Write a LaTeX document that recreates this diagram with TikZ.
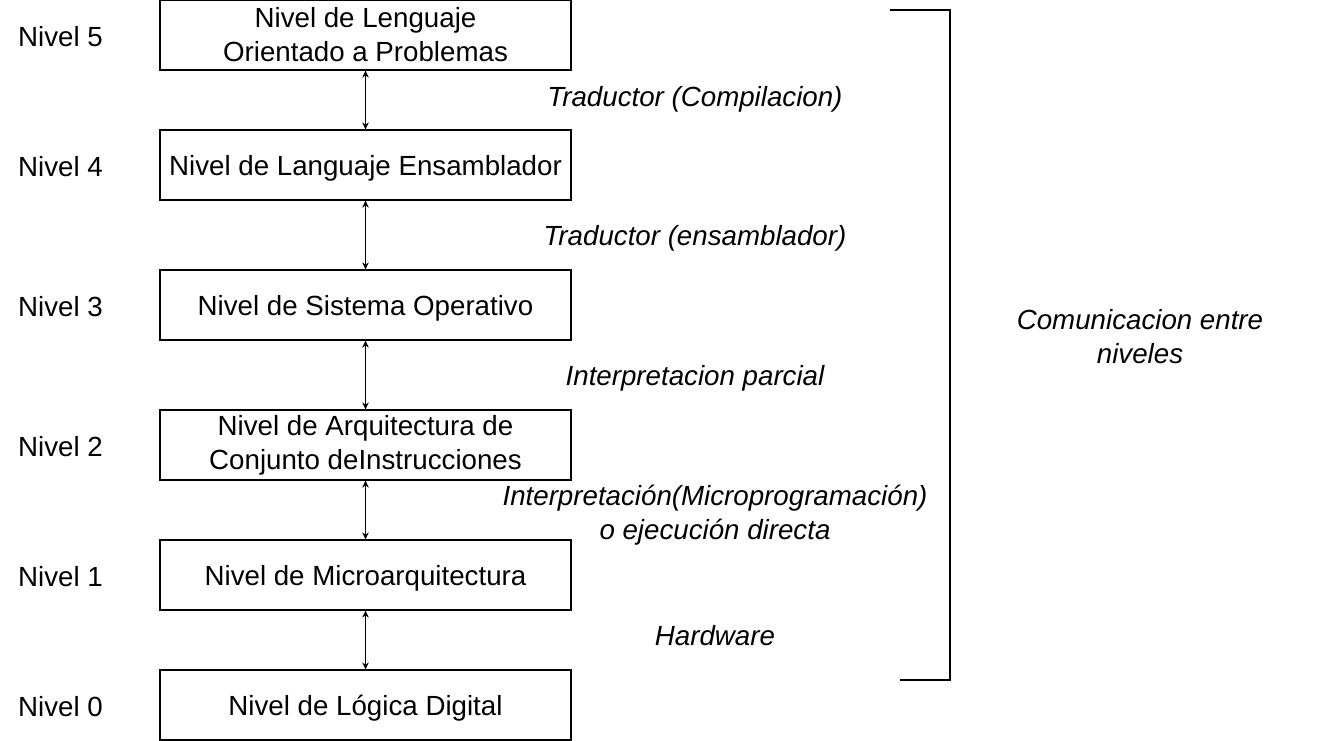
\documentclass[tikz,border=0pt]{standalone}
\usepackage{fontspec}
\setmainfont{Liberation Sans}
\usetikzlibrary{arrows.meta}
\begin{document}
\begin{tikzpicture}[x=1pt,y=-1pt,
  levelbox/.style={draw,line width=1.2pt,minimum width=411pt,minimum height=70pt,inner sep=0pt,align=center,font=\fontsize{27.7}{34}\selectfont},
  oneline/.style={text height=20pt,text depth=0pt},
  lvl/.style={anchor=west,inner sep=0pt,font=\fontsize{27.7}{34}\selectfont},
  lbl/.style={inner sep=0pt,align=center,font=\fontsize{27.7}{34}\selectfont\itshape},
  conn/.style={line width=1.2pt,{Stealth[length=7pt,width=6.5pt]}-{Stealth[length=7pt,width=6.5pt]}}]
\useasboundingbox (0,0) rectangle (1330,740);
\node[levelbox] (b5) at (365.5,35) {Nivel de Lenguaje\\Orientado a Problemas};
\node[levelbox,oneline] (b4) at (365.5,165) {Nivel de Languaje Ensamblador};
\node[levelbox,oneline] (b3) at (365.5,305) {Nivel de Sistema Operativo};
\node[levelbox] (b2) at (365.5,445) {Nivel de Arquitectura de\\Conjunto deInstrucciones};
\node[levelbox,oneline] (b1) at (365.5,575) {Nivel de Microarquitectura};
\node[levelbox,oneline] (b0) at (365.5,705) {Nivel de Lógica Digital};
\node[lvl] (n5) at (18,37) {Nivel 5};
\node[lvl] (n4) at (18,167) {Nivel 4};
\node[lvl] (n3) at (18,307) {Nivel 3};
\node[lvl] (n2) at (18,447) {Nivel 2};
\node[lvl] (n1) at (18,577) {Nivel 1};
\node[lvl] (n0) at (18,707) {Nivel 0};
\draw[conn] (b5.south) -- (b4.north);
\draw[conn] (b4.south) -- (b3.north);
\draw[conn] (b3.south) -- (b2.north);
\draw[conn] (b2.south) -- (b1.north);
\draw[conn] (b1.south) -- (b0.north);
\node[lbl] (t1) at (695,99) {Traductor (Compilacion)};
\node[lbl] (t2) at (695,238) {Traductor (ensamblador)};
\node[lbl] (t3) at (695,378) {Interpretacion parcial};
\node[lbl] (t4) at (715,515) {Interpretación(Microprogramación)\\o ejecución directa};
\node[lbl] (t5) at (715,636) {Hardware};
\node[lbl] (t6) at (1140,337) {Comunicacion entre\\niveles};
\coordinate (k1) at (890,10);
\coordinate (k2) at (950,10);
\coordinate (k3) at (950,680);
\coordinate (k4) at (900,680);
\draw[line width=1.2pt] (k1) -- (k2) -- (k3) -- (k4);
\end{tikzpicture}
\end{document}
